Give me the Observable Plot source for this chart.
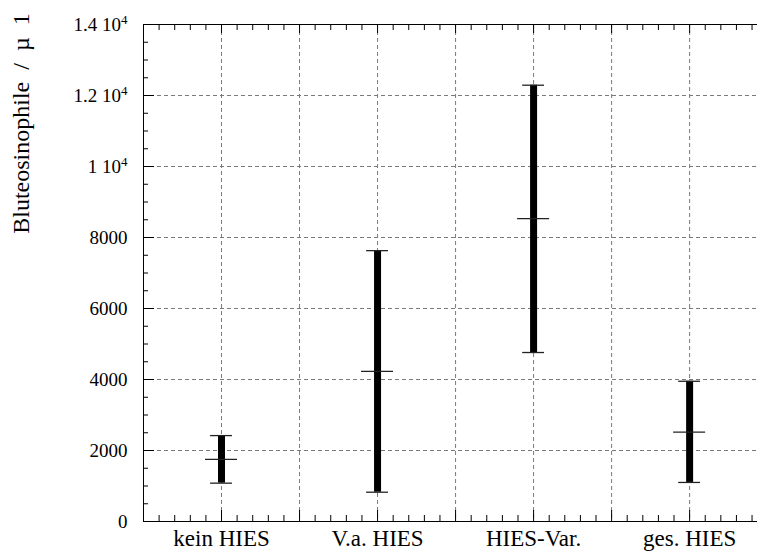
<!DOCTYPE html>
<html lang="de">
<head>
<meta charset="utf-8">
<script src="https://cdn.jsdelivr.net/npm/d3@7"></script>
<script src="https://cdn.jsdelivr.net/npm/@observablehq/plot@0.6"></script>
<style>
  body { margin: 0; background: #fff; font-family: "Liberation Serif"; font-size: 20px; }
  #chart { font-family: "Liberation Serif"; }
  #chart svg { font-family: "Liberation Serif"; }
  .fontwarm { position: absolute; left: 0; top: 0; opacity: 0; font-family: "Liberation Serif"; }
</style>
</head>
<body>
<span class="fontwarm" aria-hidden="true">&nbsp;</span>
<div id="chart"></div>
<script>
// Eosinophil counts per group: range (lower/upper) and mean
const groups = ["kein HIES", "V.a. HIES", "HIES-Var.", "ges. HIES"];
const positions = [1, 3, 5, 7];
const lower = [1080, 825, 4760, 1100];
const upper = [2420, 7630, 12290, 3950];
const mean  = [1750, 4230, 8530, 2515];

const yTicks = [0, 2000, 4000, 6000, 8000, 10000, 12000, 14000];
const yTickLabels = ["0", "2000", "4000", "6000", "8000", "1 10^4", "1.2 10^4", "1.4 10^4"];
const yTitle = "Bluteosinophile  /  µ  1";

const rows = groups.map((g, i) => ({group: g, pos: positions[i], lo: lower[i], hi: upper[i], mean: mean[i]}));

const W = 757, H = 554;
const mL = 143, mT = 24, mB = 33, mR = 0;
const innerW = W - mL - mR, innerH = H - mT - mB;
const xMax = 7.87;
const serif = "Liberation Serif";

const xMajor = d3.range(1, 8);
const xMinor = d3.range(1, 40).filter(i => i % 5 !== 0).map(i => i / 5).filter(v => v < xMax);
const yMajor = d3.range(2000, 14000, 2000);
const yMinor = d3.range(500, 14000, 500).filter(v => v % 2000 !== 0);

const grid = {stroke: "#7a7a7a", strokeWidth: 1, strokeDasharray: "4,3"};
const ink = {stroke: "black", strokeWidth: 1};

const chart = Plot.plot({
  width: W,
  height: H,
  marginLeft: mL,
  marginTop: mT,
  marginBottom: mB,
  marginRight: mR,
  style: {fontFamily: serif, fontSize: "20px"},
  x: {domain: [0, xMax], label: null},
  y: {domain: [0, 14000], label: null},
  marks: [
    // dashed grid
    Plot.ruleX(xMajor, grid),
    Plot.ruleY(yMajor, grid),
    // frame (right side lies past the visible area)
    Plot.ruleY([0, 14000], ink),
    Plot.ruleX([0], ink),
    // inward ticks: bottom, top, left
    Plot.ruleX(xMajor, {...ink, insetTop: innerH - 11}),
    Plot.ruleX(xMinor, {...ink, insetTop: innerH - 6}),
    Plot.ruleX(xMajor, {...ink, insetBottom: innerH - 9}),
    Plot.ruleX(xMinor, {...ink, insetBottom: innerH - 6}),
    Plot.ruleY(yMajor, {...ink, insetRight: innerW - 11}),
    Plot.ruleY(yMinor, {...ink, insetRight: innerW - 5}),
    // range bars
    Plot.ruleX(rows, {x: "pos", y1: "lo", y2: "hi", stroke: "black", strokeWidth: 7}),
    // caps and mean marks
    Plot.ruleY(rows, {y: "hi", x1: d => d.pos - 0.14, x2: d => d.pos + 0.14, stroke: "#222", strokeWidth: 1.3}),
    Plot.ruleY(rows, {y: "lo", x1: d => d.pos - 0.14, x2: d => d.pos + 0.14, stroke: "#222", strokeWidth: 1.3}),
    Plot.ruleY(rows, {y: "mean", x1: d => d.pos - 0.205, x2: d => d.pos + 0.205, stroke: "#222", strokeWidth: 1.3}),
    // axis labels
    Plot.axisY(yTicks, {anchor: "left", tickSize: 0, tickPadding: 16, fontSize: 19,
      tickFormat: d => yTickLabels[yTicks.indexOf(d)]}),
    Plot.axisX(positions, {anchor: "bottom", tickSize: 0, tickPadding: 8, fontSize: 23,
      tickFormat: d => groups[positions.indexOf(d)]}),
    // y title
    Plot.text([yTitle], {frameAnchor: "top-left", rotate: -90, dx: -122, dy: 99,
      fontSize: 24, textAnchor: "middle", lineAnchor: "middle"})
  ]
});

// set the power of ten as a raised exponent
d3.select(chart).selectAll('g[aria-label="y-axis tick label"] text').each(function () {
  const m = this.textContent.match(/^(.*) 10\^4$/);
  if (!m) return;
  const t = d3.select(this);
  t.text(null);
  t.append("tspan").text(m[1] + " 10");
  t.append("tspan").attr("dy", "-7").attr("font-size", 13).text("4");
});
d3.select(chart).selectAll("text").style("white-space", "pre");

document.getElementById("chart").appendChild(chart);
</script>
</body>
</html>
